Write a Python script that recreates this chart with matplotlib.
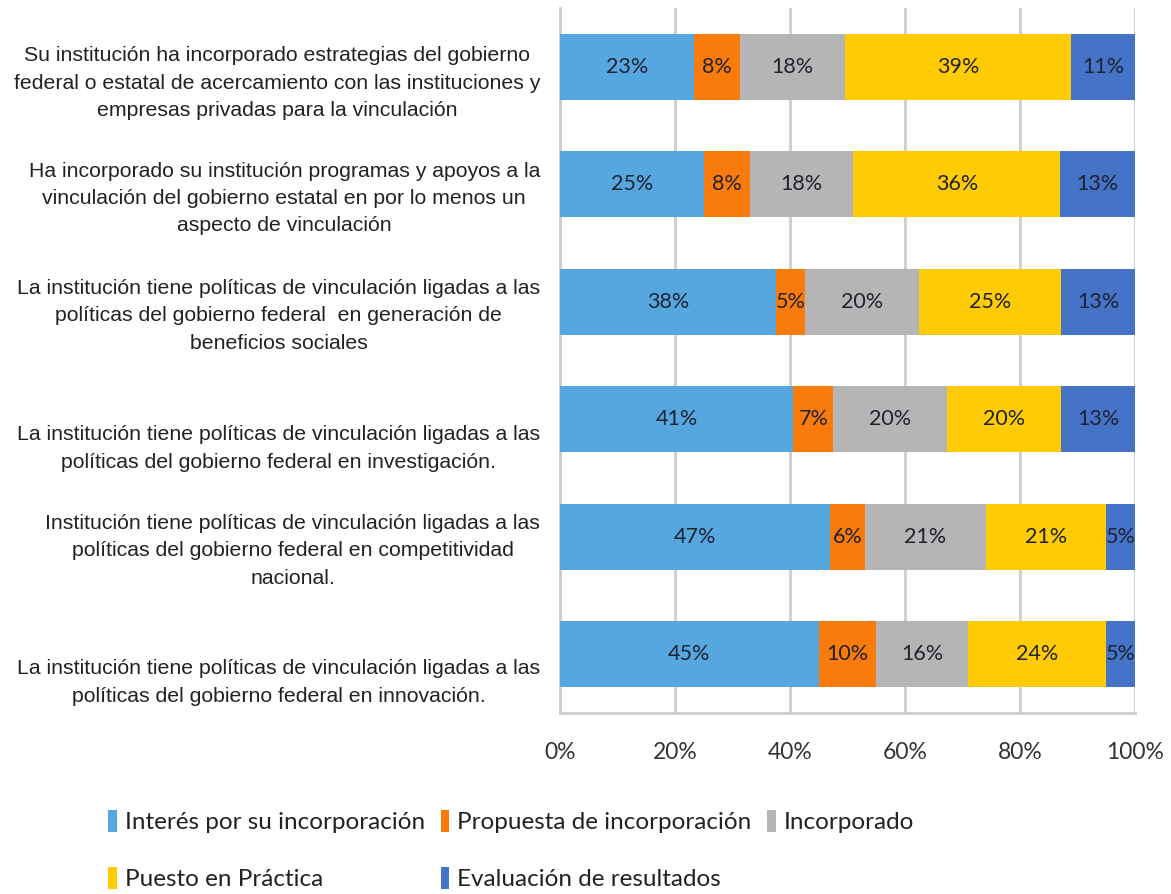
import matplotlib
matplotlib.use("Agg")
import matplotlib.pyplot as plt
import numpy as np

categories = [
    "Su institución ha incorporado estrategias del gobierno\nfederal o estatal de acercamiento con las instituciones y\nempresas privadas para la vinculación",
    "Ha incorporado su institución programas y apoyos a la\nvinculación del gobierno estatal en por lo menos un\naspecto de vinculación",
    "La institución tiene políticas de vinculación ligadas a las\npolíticas del gobierno federal  en generación de\nbeneficios sociales",
    "La institución tiene políticas de vinculación ligadas a las\npolíticas del gobierno federal en investigación.",
    "Institución tiene políticas de vinculación ligadas a las\npolíticas del gobierno federal en competitividad\nnacional.",
    "La institución tiene políticas de vinculación ligadas a las\npolíticas del gobierno federal en innovación.",
]
series_names = ["Interés por su incorporación", "Propuesta de incorporación", "Incorporado",
                "Puesto en Práctica", "Evaluación de resultados"]
interes = [23, 25, 38, 41, 47, 45]
propuesta = [8, 8, 5, 7, 6, 10]
incorporado = [18, 18, 20, 20, 21, 16]
puesto = [39, 36, 25, 20, 21, 24]
evaluacion = [11, 13, 13, 13, 5, 5]
xtick_labels = ["0%", "20%", "40%", "60%", "80%", "100%"]

colors = ["#56A7E0", "#F97B0C", "#B5B5B5", "#FFCB05", "#4473C8"]
label_offsets = [0.14, 0.12, 0.12, 0.25, 0.12, 0.24]

cond = ["Lato", "DejaVu Sans"]

fig = plt.figure(figsize=(11.71, 8.94), dpi=100)
ax = fig.add_axes([560/1171, 1-713/894, 575/1171, 705/894])

data = np.array([interes, propuesta, incorporado, puesto, evaluacion], dtype=float)
totals = data.sum(axis=0)
frac = data / totals * 100
y = np.arange(len(categories))
left = np.zeros(len(categories))
handles = []
for k in range(len(series_names)):
    bars = ax.barh(y, frac[k], left=left, height=0.56, color=colors[k], label=series_names[k], zorder=3)
    handles.append(bars)
    for i in range(len(categories)):
        ax.text(left[i] + frac[k][i] / 2, y[i], f"{int(data[k][i])}%", ha="center", va="center",
                fontsize=15.5, color="#1f2330", family=cond, zorder=4)
    left += frac[k]

ax.set_xlim(0, 100)
ax.set_ylim(5.5, -0.5)
ax.set_xticks([0, 20, 40, 60, 80, 100])
ax.set_xticklabels(xtick_labels, family=cond, fontsize=16.5, color="#333333")
ax.tick_params(axis="x", length=0, pad=21)
ax.set_yticks([])
ax.grid(axis="x", color="#CDCDCD", linewidth=2, zorder=0)
for s in ["top", "right"]:
    ax.spines[s].set_visible(False)
for s in ["left", "bottom"]:
    ax.spines[s].set_color("#CDCDCD")
    ax.spines[s].set_linewidth(2)

for i, cat in enumerate(categories):
    ax.text(-20/575*100, y[i] + label_offsets[i], cat, ha="right", va="center", multialignment="center",
            fontsize=15.3, color="#222222", family=["Liberation Sans", "DejaVu Sans"], linespacing=1.55)

order = [0, 3, 1, 4, 2]
leg = fig.legend([handles[j] for j in order], [series_names[j] for j in order], ncol=3,
                 loc="upper left", bbox_to_anchor=(96/1171, 1-798/894), frameon=False,
                 prop={"family": cond, "size": 17.5}, handlelength=0.35, handleheight=1.0,
                 handletextpad=0.33, labelspacing=1.38, columnspacing=0.65, borderpad=0)
for t in leg.get_texts():
    t.set_color("#222222")

fig.savefig("out.png", dpi=100)
